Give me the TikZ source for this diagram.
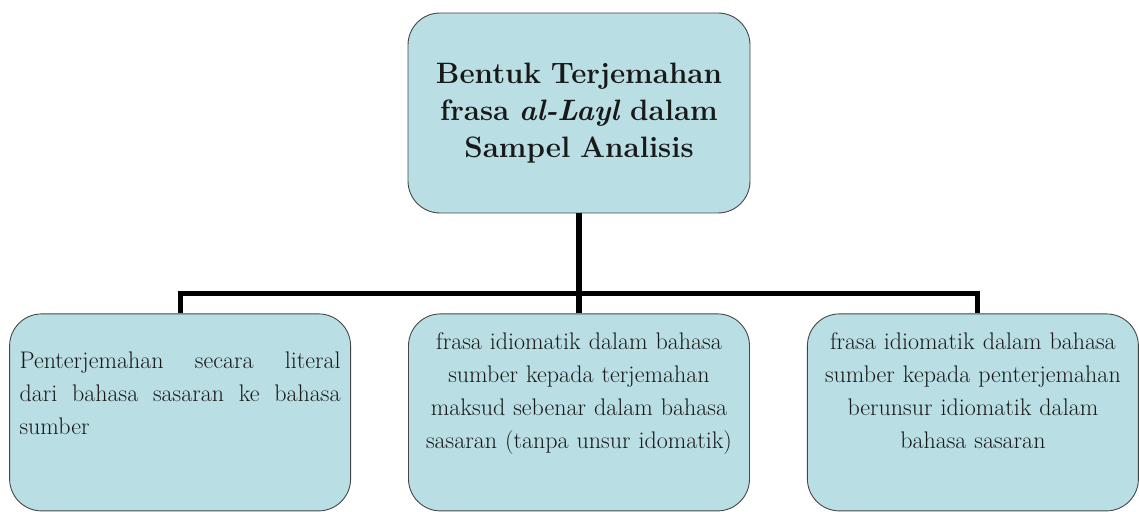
\documentclass[tikz,border=0pt]{standalone}
\usepackage{xcolor}
\usepackage{tikz}
\usetikzlibrary{positioning}

\definecolor{birumuda}{RGB}{185,223,228}
\definecolor{garistepi}{RGB}{70,70,70}

\begin{document}
\begin{tikzpicture}[x=1pt,y=1pt,node distance=100pt and 57pt,
            line join=miter]
        \tikzstyle{kotak}=[draw=garistepi,fill=birumuda,line width=0.9pt,
            rounded corners=32pt,inner sep=0pt,text=black!90]
        \tikzstyle{judulkotak}=[kotak,minimum width=342pt,minimum height=200pt,
            text width=320pt,align=center,font=\fontsize{29.5}{37}\selectfont\bfseries]
        \tikzstyle{bentuk}=[kotak,minimum width=341pt,minimum height=197pt,
            text width=321pt,font=\fontsize{24}{33}\selectfont,
            execute at end node={\endgraf\vspace*{38pt}}]
        \tikzstyle{cabang}=[draw=black,line width=5.5pt]

        \useasboundingbox (0,0) rectangle (1139,511);

        \node[judulkotak] (judul) at (579,398)
            {Bentuk Terjemahan\\ frasa \textit{al-Layl} dalam\\ Sampel Analisis};
        \node[bentuk,align=center] (tengah) [below=of judul]
            {frasa idiomatik dalam bahasa\\ sumber kepada terjemahan\\
             maksud sebenar dalam bahasa\\ sasaran (tanpa unsur idomatik)};
        \node[bentuk,align=justify] (kiri) [left=of tengah]
            {Penterjemahan secara literal\linebreak dari bahasa sasaran ke bahasa\linebreak sumber};
        \node[bentuk,align=center,minimum width=331pt,text width=311pt,
            execute at end node={\vspace*{6pt}}]
            (kanan) [right=of tengah]
            {frasa idiomatik dalam bahasa\\ sumber kepada penterjemahan\\
             berunsur idiomatik dalam\\ bahasa sasaran};

        \coordinate[below=80pt of judul.south] (simpang);
        \path[cabang] (judul.south) -- (tengah.north);
        \path[cabang] ([xshift=0.5pt]kiri.north) |- (simpang) -| ([xshift=4.5pt]kanan.north);
    \end{tikzpicture}
\end{document}
